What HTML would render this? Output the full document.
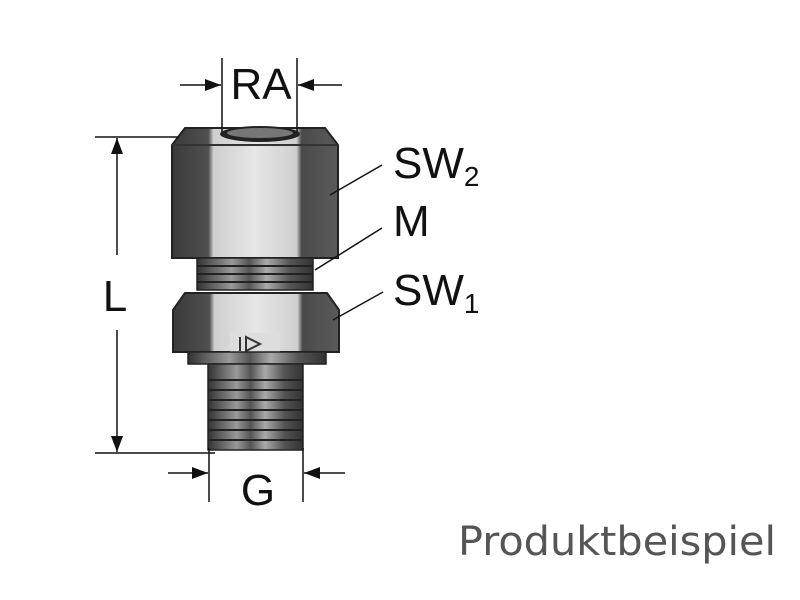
<!DOCTYPE html>
<html><head><meta charset="utf-8"><style>html,body{margin:0;padding:0;background:#fff}svg{display:block}</style></head><body>
<svg width="800" height="600" viewBox="0 0 800 600" xmlns="http://www.w3.org/2000/svg">
<defs>
<linearGradient id="hx" x1="0" x2="1" y1="0" y2="0">
<stop offset="0" stop-color="#3a3a3a"/><stop offset="0.22" stop-color="#505050"/><stop offset="0.25" stop-color="#cfcfcf"/><stop offset="0.5" stop-color="#e6e6e6"/><stop offset="0.75" stop-color="#cfcfcf"/><stop offset="0.78" stop-color="#4a4a4a"/><stop offset="1" stop-color="#5a5a5a"/>
</linearGradient>
<linearGradient id="cyl" x1="0" x2="1" y1="0" y2="0">
<stop offset="0" stop-color="#333"/><stop offset="0.3" stop-color="#999"/><stop offset="0.45" stop-color="#555"/><stop offset="0.6" stop-color="#aaa"/><stop offset="0.8" stop-color="#555"/><stop offset="1" stop-color="#333"/>
</linearGradient>
<marker id="ar" markerWidth="16" markerHeight="12" refX="16" refY="6" orient="auto" markerUnits="userSpaceOnUse"><path d="M0,0 L16,6 L0,12 z" fill="#111"/></marker>
</defs>
<path d="M172,145 L185,128 L325,128 L338,145 L338,258 L172,258 Z" fill="url(#hx)" stroke="#222" stroke-width="2"/>
<path d="M172,145 L338,145" stroke="#333" stroke-width="2"/>
<ellipse cx="260" cy="134" rx="40" ry="8" fill="#222"/>
<ellipse cx="260" cy="133" rx="33" ry="5" fill="#777"/>
<rect x="197" y="258" width="116" height="32" fill="url(#cyl)" stroke="#222" stroke-width="1.5"/>
<g stroke="#222" stroke-width="2"><line x1="197" y1="266" x2="313" y2="266"/><line x1="197" y1="274" x2="313" y2="274"/><line x1="197" y1="282" x2="313" y2="282"/></g>
<path d="M173,310 L185,293 L327,293 L339,310 L339,352 L173,352 Z" fill="url(#hx)" stroke="#222" stroke-width="2"/>
<rect x="230" y="333" width="50" height="20" fill="#ddd"/>
<path d="M240,337 v14 M246,337 l14,7 l-14,7 z" stroke="#333" stroke-width="2" fill="none"/>
<rect x="188" y="352" width="138" height="12" fill="url(#cyl)" stroke="#222" stroke-width="1.5"/>
<rect x="208" y="364" width="95" height="86" fill="url(#cyl)" stroke="#222" stroke-width="1.5"/>
<g stroke="#222" stroke-width="2"><line x1="208" y1="380" x2="303" y2="380"/><line x1="208" y1="390" x2="303" y2="390"/><line x1="208" y1="400" x2="303" y2="400"/><line x1="208" y1="410" x2="303" y2="410"/><line x1="208" y1="420" x2="303" y2="420"/><line x1="208" y1="430" x2="303" y2="430"/><line x1="208" y1="440" x2="303" y2="440"/></g>
<g stroke="#111" stroke-width="1.5" fill="none">
<line x1="95" y1="137" x2="178" y2="137"/>
<line x1="95" y1="453" x2="215" y2="453"/>
<line x1="117" y1="255" x2="117" y2="138" marker-end="url(#ar)"/>
<line x1="117" y1="330" x2="117" y2="452" marker-end="url(#ar)"/>
<line x1="222" y1="58" x2="222" y2="132"/>
<line x1="297" y1="58" x2="297" y2="132"/>
<line x1="180" y1="85" x2="221" y2="85" marker-end="url(#ar)"/>
<line x1="342" y1="85" x2="298" y2="85" marker-end="url(#ar)"/>
<line x1="209" y1="448" x2="209" y2="502"/>
<line x1="303" y1="448" x2="303" y2="502"/>
<line x1="168" y1="473" x2="208" y2="473" marker-end="url(#ar)"/>
<line x1="345" y1="473" x2="304" y2="473" marker-end="url(#ar)"/>
<line x1="382" y1="165" x2="330" y2="195"/>
<line x1="382" y1="228" x2="315" y2="270"/>
<line x1="383" y1="292" x2="333" y2="320"/>
</g>
<g font-family="Liberation Sans, sans-serif" fill="#111" font-size="44">
<text x="261" y="99" text-anchor="middle">RA</text>
<text x="115" y="311" text-anchor="middle">L</text>
<text x="258" y="505" text-anchor="middle">G</text>
<text x="393" y="178">SW<tspan font-size="28" dy="8">2</tspan></text>
<text x="393" y="236">M</text>
<text x="393" y="305">SW<tspan font-size="28" dy="8">1</tspan></text>
</g>
<text x="458" y="555" font-family="DejaVu Sans, sans-serif" font-size="40" fill="#555" textLength="318" lengthAdjust="spacingAndGlyphs">Produktbeispiel</text>
</svg>
</body></html>
